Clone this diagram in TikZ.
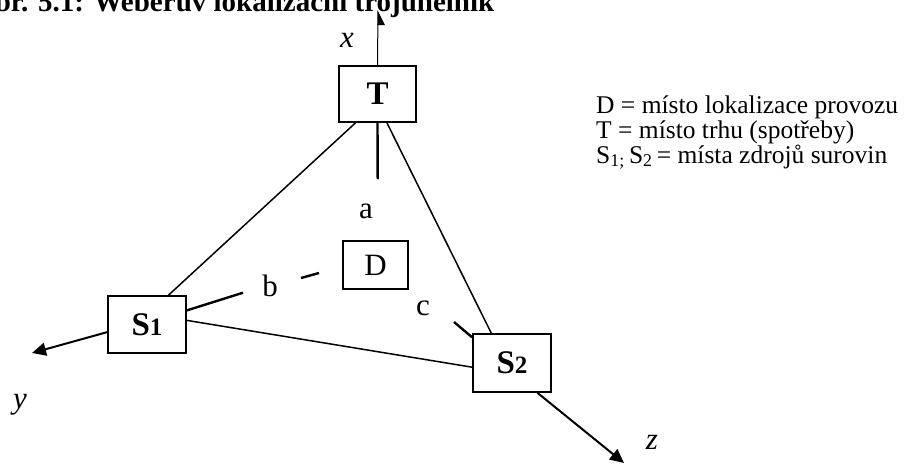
\documentclass[tikz,border=0pt]{standalone}
\usepackage{fontspec}
\setmainfont{Liberation Serif}
\usetikzlibrary{arrows.meta,calc}
\begin{document}
\begin{tikzpicture}[x=1pt,y=-1pt,
  box/.style={draw,line width=1.8pt,inner sep=0pt},
  lbl/.style={inner sep=0pt,font=\fontsize{31}{31}\selectfont},
  axlbl/.style={inner sep=0pt,font=\fontsize{31}{31}\selectfont\itshape},
  edge/.style={line width=1.5pt},
  stub/.style={line width=2.4pt},
  axis/.style={line width=2pt,-{Triangle[length=14pt,width=13pt]}},
]
\useasboundingbox (0,0) rectangle (912,464);
% title (clipped at top)
\node[anchor=base west,inner sep=0pt,font=\fontsize{29}{29}\selectfont\bfseries] (title) at (-28,11) {Obr. 5.1: Weberův lokalizační trojúhelník};
% boxes
\node[box,minimum width=77pt,minimum height=56pt,font=\fontsize{33}{33}\selectfont\bfseries] (T) at (377.5,94) {T};
\node[box,minimum width=78pt,minimum height=57pt,font=\fontsize{33}{33}\selectfont\bfseries] (S1) at (147,324.5) {S{\fontsize{25}{25}\selectfont 1}};
\node[box,minimum width=78pt,minimum height=58pt,font=\fontsize{33}{33}\selectfont\bfseries] (S2) at (512,363) {S{\fontsize{25}{25}\selectfont 2}};
\node[box,line width=1.5pt,minimum width=65pt,minimum height=48pt,font=\fontsize{31}{31}\selectfont] (D) at (375.5,265) {D};
% triangle edges
\draw[edge] ($(T.south west)!0.22!(T.south east)$) -- ($(S1.north west)!0.77!(S1.north east)$);
\draw[edge] ($(T.south west)!0.62!(T.south east)$) -- ($(S2.north west)!0.24!(S2.north east)$);
\draw[edge] ($(S1.north east)!0.43!(S1.south east)$) -- ($(S2.north west)!0.57!(S2.south west)$);
% distance stubs
\coordinate (aend) at (377.7,179);
\draw[stub] (T.south) -- (aend);
\node[lbl] (la) at (366,211) {a};
\coordinate (bend) at (243,292.7);
\coordinate (bd1) at (301,278);
\coordinate (bd2) at (319,273);
\draw[stub] ($(S1.north east)!0.26!(S1.south east)$) -- (bend);
\draw[stub] (bd1) -- (bd2);
\node[lbl] (lb) at (270,286) {b};
\coordinate (cend) at (454,322);
\draw[stub] ($(S2.north west)!0.07!(S2.south west)$) -- (cend);
\node[lbl] (lc) at (423,308) {c};
% axes
\coordinate (xend) at (378,10);
\coordinate (yend) at (32,353);
\coordinate (zend) at (624,463);
\draw[line width=1pt,-{Triangle[harpoon,swap,length=14pt,width=14pt]}] (T.north) -- (xend);
\draw[axis] ($(S1.north west)!0.63!(S1.south west)$) -- (yend);
\draw[axis] ($(S2.south west)!0.82!(S2.south east)$) -- (zend);
\node[axlbl] (lx) at (347,40) {x};
\node[axlbl] (ly) at (20,405) {y};
\node[axlbl] (lz) at (652,442) {z};
% legend
\node[anchor=north west,align=left,inner sep=0pt,font=\fontsize{25.5}{21}\selectfont] (legend) at (596,96) {D = místo lokalizace provozu\\T = místo trhu (spotřeby)\\S\textsubscript{1;}\,S\textsubscript{2}\,= místa zdrojů surovin};
\end{tikzpicture}
\end{document}
